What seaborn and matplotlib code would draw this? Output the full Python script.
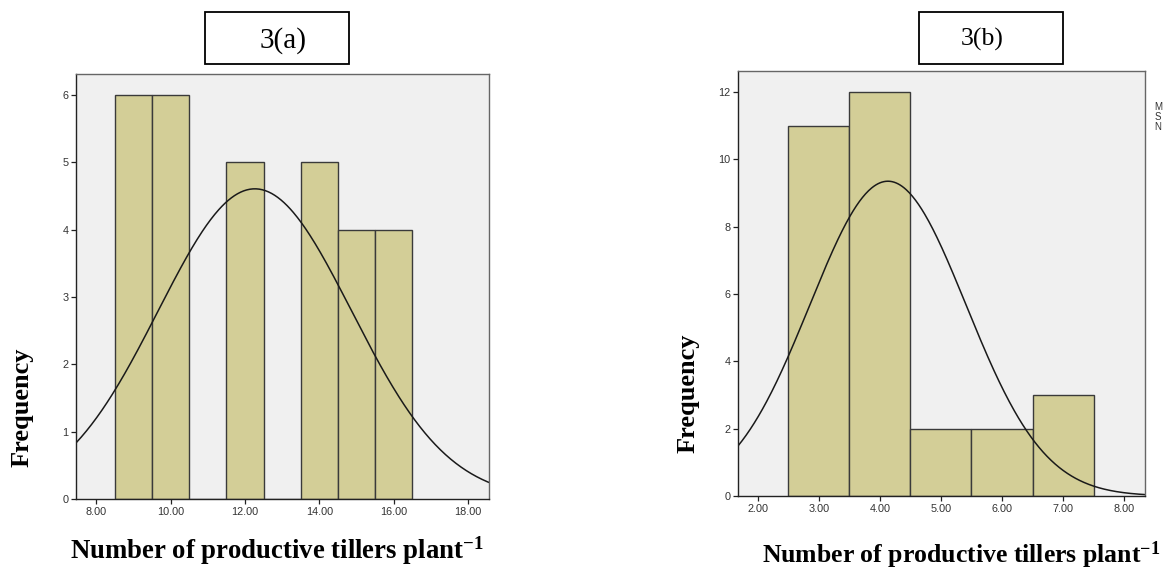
import numpy as np
import pandas as pd
import matplotlib
matplotlib.use("Agg")
import matplotlib.pyplot as plt
from matplotlib.patches import Rectangle
from matplotlib.ticker import FormatStrFormatter
import seaborn as sns

# ---- data ----
a_values = [9, 10, 12, 14, 15, 16]
a_counts = [6, 6, 5, 5, 4, 4]
b_values = [3, 4, 5, 6, 7]
b_counts = [11, 12, 2, 2, 3]
a_xticks = [8, 10, 12, 14, 16, 18]
a_yticks = [0, 1, 2, 3, 4, 5, 6]
b_xticks = [2, 3, 4, 5, 6, 7, 8]
b_yticks = [0, 2, 4, 6, 8, 10, 12]
xlabel = "Number of productive tillers plant$^{\\mathbf{-1}}$"
ylabel = "Frequency"

sns.set_theme(style="white")
plt.rcParams['font.family'] = ['Liberation Sans', 'DejaVu Sans']
plt.rcParams['mathtext.fontset'] = 'custom'
plt.rcParams['mathtext.rm'] = 'Liberation Serif'
plt.rcParams['mathtext.bf'] = 'Liberation Serif:bold'
plt.rcParams['mathtext.it'] = 'Liberation Serif:italic'

BAR = "#D3CE97"
EDGE = "#3a3a3a"
BG = "#F0F0F0"
W, H = 1170, 569

fig = plt.figure(figsize=(W / 100, H / 100), dpi=100)


def fig_rect(x0, y0, x1, y1):
    return [x0 / W, 1 - y1 / H, (x1 - x0) / W, (y1 - y0) / H]


def panel(rect, values, counts, xlim, ylim, xticks, yticks):
    ax = fig.add_axes(rect)
    ax.set_facecolor(BG)
    df = pd.DataFrame({"value": values, "count": counts})
    sns.histplot(data=df, x="value", weights="count", binwidth=1,
                 binrange=(min(values) - 0.5, max(values) + 0.5), ax=ax,
                 color=BAR, edgecolor=EDGE, linewidth=1.0, alpha=1.0)
    v = np.asarray(values, float)
    c = np.asarray(counts, float)
    n = c.sum()
    mu = np.sum(v * c) / n
    sd = np.sqrt(np.sum(c * (v - mu) ** 2) / (n - 1))
    xs = np.linspace(xlim[0], xlim[1], 400)
    ys = n * 1.0 / (sd * np.sqrt(2 * np.pi)) * np.exp(-0.5 * ((xs - mu) / sd) ** 2)
    sns.lineplot(x=xs, y=ys, ax=ax, color="#1a1a1a", linewidth=1.1)
    ax.set_xlim(*xlim)
    ax.set_ylim(*ylim)
    ax.set_xticks(xticks)
    ax.set_yticks(yticks)
    ax.xaxis.set_major_formatter(FormatStrFormatter("%.2f"))
    ax.tick_params(axis="both", which="major", direction="out", length=3.5,
                   width=0.9, colors="#222222", labelsize=7.8, pad=2,
                   bottom=True, left=True, top=False, right=False)
    for lab in ax.get_xticklabels() + ax.get_yticklabels():
        lab.set_color("#333333")
    for s in ["left", "bottom"]:
        ax.spines[s].set_color("#222222")
        ax.spines[s].set_linewidth(1.0)
    for s in ["top", "right"]:
        ax.spines[s].set_color("#666666")
        ax.spines[s].set_linewidth(1.0)
    ax.set_xlabel("")
    ax.set_ylabel("")
    return ax


axA = panel(fig_rect(76, 74, 489, 499), a_values, a_counts,
            (7.46, 18.56), (0, 6.31), a_xticks, a_yticks)
axB = panel(fig_rect(738, 71, 1145, 496), b_values, b_counts,
            (1.68, 8.34), (0, 12.63), b_xticks, b_yticks)

serif = ['Liberation Serif', 'DejaVu Serif']

# title boxes
for (x0, y0, x1, y1), txt, tx, ty, fs in [
        ((205, 12, 349, 64), "3(a)", 283, 41, 21),
        ((919, 12, 1063, 64), "3(b)", 982, 39, 18.5)]:
    fig.patches.append(Rectangle((x0 / W, 1 - y1 / H), (x1 - x0) / W, (y1 - y0) / H,
                                 transform=fig.transFigure, fill=False,
                                 edgecolor="black", linewidth=1.3))
    fig.text(tx / W, 1 - ty / H, txt, family=serif, fontsize=fs,
             ha="center", va="center", color="black")

# axis labels
fig.text(277 / W, 1 - 551 / H, xlabel, family=serif, fontsize=19.3,
         fontweight="bold", ha="center", va="center", color="black")
fig.text(762 / W, 1 - 555 / H, xlabel, family=serif, fontsize=18.5,
         fontweight="bold", ha="left", va="center", color="black")
fig.text(22 / W, 1 - 407 / H, ylabel, family=serif, fontsize=19,
         fontweight="bold", ha="center", va="center", rotation=90,
         color="black")
fig.text(688 / W, 1 - 393 / H, ylabel, family=serif, fontsize=19,
         fontweight="bold", ha="center", va="center", rotation=90,
         color="black")

# clipped statistics legend letters
fig.text(1158 / W, 1 - 117 / H, "M\nS\nN", fontsize=7, ha="center",
         va="center", color="#333333", linespacing=0.95)

fig.savefig("out.png", dpi=100, facecolor="white")
